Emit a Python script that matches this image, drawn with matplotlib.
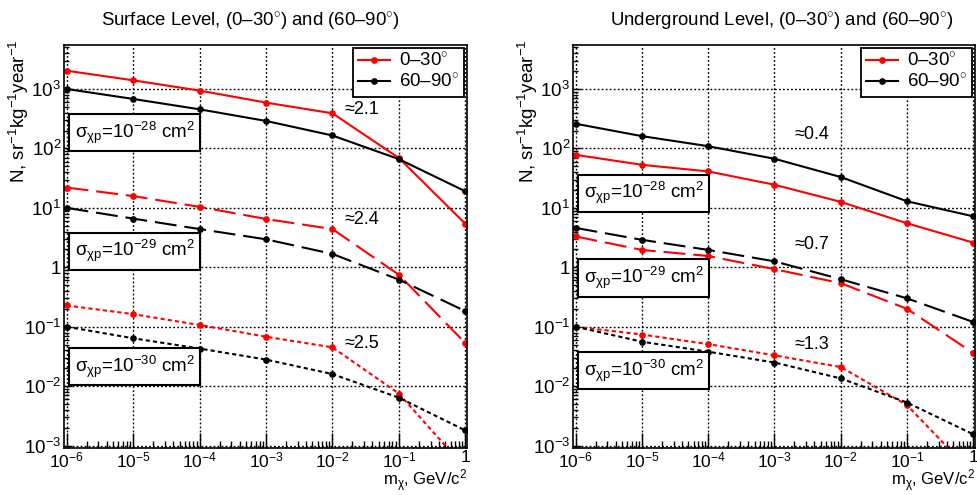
import matplotlib
matplotlib.use("Agg")
import matplotlib.pyplot as plt
import numpy as np
from matplotlib.ticker import FixedLocator, LogLocator, NullFormatter

plt.rcParams['font.family'] = ['Liberation Sans', 'DejaVu Sans']
plt.rcParams['mathtext.fontset'] = 'custom'
plt.rcParams['mathtext.rm'] = 'Liberation Sans'
plt.rcParams['mathtext.it'] = 'Liberation Sans'
plt.rcParams['mathtext.sf'] = 'Liberation Sans'

# --- data -------------------------------------------------------------
mass = [1e-6, 1e-5, 1e-4, 1e-3, 1e-2, 1e-1, 1.0]

# surface level
surf_28_vert = [2030, 1400, 940, 590, 390, 69, 5.4]
surf_28_horiz = [1000, 680, 455, 290, 165, 66, 19]
surf_29_vert = [22, 15.8, 10.4, 6.5, 4.4, 0.75, 0.053]
surf_29_horiz = [10, 6.6, 4.4, 2.96, 1.68, 0.62, 0.183]
surf_30_vert = [0.228, 0.163, 0.107, 0.068, 0.045, 0.0075, 0.00042]
surf_30_horiz = [0.1, 0.064, 0.043, 0.028, 0.016, 0.0064, 0.0018]

# underground level
under_28_vert = [78, 53, 41, 24.5, 12.6, 5.5, 2.6]
under_28_horiz = [260, 161, 109, 67, 33, 12.9, 7.2]
under_29_vert = [3.3, 1.96, 1.55, 0.93, 0.54, 0.2, 0.036]
under_29_horiz = [4.6, 2.9, 1.96, 1.26, 0.63, 0.30, 0.12]
under_30_vert = [0.1, 0.074, 0.051, 0.033, 0.021, 0.0048, 0.00033]
under_30_horiz = [0.1, 0.056, 0.038, 0.025, 0.0135, 0.0053, 0.00155]

legend_labels = ['0\u201330$^{\\circ}$', '60\u201390$^{\\circ}$']
sigma_labels = ['$\\sigma_{\\chi\\mathrm{p}}$=10$^{-28}$ cm$^{2}$',
                '$\\sigma_{\\chi\\mathrm{p}}$=10$^{-29}$ cm$^{2}$',
                '$\\sigma_{\\chi\\mathrm{p}}$=10$^{-30}$ cm$^{2}$']
surf_ratios = ['\u22482.1', '\u22482.4', '\u22482.5']
under_ratios = ['\u22480.4', '\u22480.7', '\u22481.3']

xticks = [1e-6, 1e-5, 1e-4, 1e-3, 1e-2, 1e-1, 1]
xticklabels = ['10$^{-6}$', '10$^{-5}$', '10$^{-4}$', '10$^{-3}$',
               '10$^{-2}$', '10$^{-1}$', '1']
yticks = [1e-3, 1e-2, 1e-1, 1, 1e1, 1e2, 1e3]
yticklabels = ['10$^{-3}$', '10$^{-2}$', '10$^{-1}$', '1',
               '10$^{1}$', '10$^{2}$', '10$^{3}$']

# --- figure -----------------------------------------------------------
W, H = 977, 495
fig = plt.figure(figsize=(W / 100, H / 100), dpi=100)


def px_axes(x0, y0, x1, y1):
    return fig.add_axes((x0 / W, (H - y1) / H, (x1 - x0) / W, (y1 - y0) / H))


styles = {
    28: '-',
    29: (0, (10.5, 3.8)),
    30: (0, (2.0, 1.5)),
}


def draw_panel(ax, series, ratios, ratio_pos, box_pos):
    for sig, vert, horiz in series:
        ls = styles[sig]
        ax.plot(mass, vert, color='red', lw=1.5, ls=ls, marker='o',
                ms=3.8, label=legend_labels[0] if sig == 28 else None)
        ax.plot(mass, horiz, color='black', lw=1.5, ls=ls, marker='o',
                ms=3.8, label=legend_labels[1] if sig == 28 else None)

    ax.set_xscale('log')
    ax.set_yscale('log')
    ax.set_xlim(10 ** -6.04, 10 ** 0.025)
    ax.set_ylim(10 ** -3.04, 10 ** 3.74)

    ax.xaxis.set_major_locator(FixedLocator(xticks))
    ax.set_xticklabels(xticklabels)
    ax.xaxis.set_minor_locator(LogLocator(base=10, subs=np.arange(2, 10), numticks=20))
    ax.xaxis.set_minor_formatter(NullFormatter())
    ax.yaxis.set_major_locator(FixedLocator(yticks))
    ax.set_yticklabels(yticklabels)
    ax.yaxis.set_minor_locator(LogLocator(base=10, subs=np.arange(2, 10), numticks=20))
    ax.yaxis.set_minor_formatter(NullFormatter())

    ax.tick_params(axis='x', which='major', direction='in', length=11, width=1,
                   labelsize=12.5, pad=1.5)
    ax.tick_params(axis='x', which='minor', direction='in', length=5, width=1)
    ax.tick_params(axis='y', which='major', direction='in', length=6, width=1,
                   labelsize=13.5, pad=2)
    ax.tick_params(axis='y', which='minor', direction='in', length=3.5, width=1)
    for sp in ax.spines.values():
        sp.set_linewidth(1.2)

    ax.grid(True, which='major', color='black', lw=1, ls=(0, (1.3, 1.6)))
    ax.set_axisbelow(True)

    leg = ax.legend(loc='upper right', fontsize=13.5, frameon=True, fancybox=False,
                    edgecolor='black', framealpha=1, borderaxespad=0.15,
                    handlelength=1.7, handletextpad=0.5, borderpad=0.25,
                    labelspacing=0.15)
    leg.get_frame().set_linewidth(1.3)

    for txt, (x, y) in zip(ratios, ratio_pos):
        ax.text(x, y, txt, transform=ax.transAxes, fontsize=13,
                ha='left', va='center')
    for txt, (x, y) in zip(sigma_labels, box_pos):
        ax.text(x, y, txt, transform=ax.transAxes, fontsize=13.5,
                ha='left', va='center', zorder=5,
                bbox=dict(boxstyle='square,pad=0.3', fc='white',
                          ec='black', lw=1.5))

    ax.text(-0.112, 1.015, 'N, sr$^{-1}$kg$^{-1}$year$^{-1}$', transform=ax.transAxes,
            rotation=90, ha='center', va='top', fontsize=13.5)
    ax.text(1.0, -0.115, 'm$_{\\chi}$, GeV/c$^{2}$', transform=ax.transAxes,
            ha='right', va='bottom', fontsize=12)


ax1 = px_axes(64, 45, 467, 448)
draw_panel(ax1,
           [(28, surf_28_vert, surf_28_horiz),
            (29, surf_29_vert, surf_29_horiz),
            (30, surf_30_vert, surf_30_horiz)],
           surf_ratios,
           [(0.695, 0.84), (0.695, 0.566), (0.695, 0.26)],
           [(0.027, 0.783), (0.027, 0.488), (0.027, 0.202)])

ax2 = px_axes(573, 45, 975, 448)
draw_panel(ax2,
           [(28, under_28_vert, under_28_horiz),
            (29, under_29_vert, under_29_horiz),
            (30, under_30_vert, under_30_horiz)],
           under_ratios,
           [(0.55, 0.777), (0.55, 0.504), (0.55, 0.258)],
           [(0.027, 0.632), (0.027, 0.422), (0.027, 0.192)])

fig.text(250 / W, 1 - 22 / H, 'Surface Level, (0\u201330$^{\\circ}$) and (60\u201390$^{\\circ}$)',
         ha='center', va='center', fontsize=13.4)
fig.text(782 / W, 1 - 22 / H, 'Underground Level, (0\u201330$^{\\circ}$) and (60\u201390$^{\\circ}$)',
         ha='center', va='center', fontsize=13.4)

fig.savefig('out.png', dpi=100)
